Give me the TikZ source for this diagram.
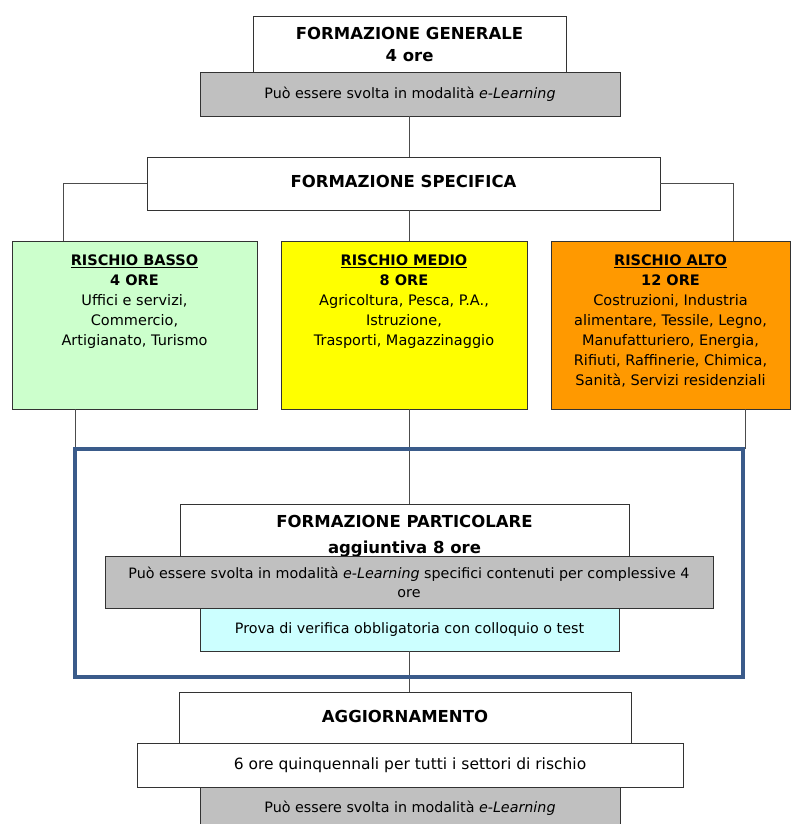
\documentclass[tikz,border=0pt]{standalone}
\usepackage{fontspec}
\setmainfont{DejaVu Sans}
\usetikzlibrary{calc}

\definecolor{grigio}{HTML}{C0C0C0}
\definecolor{verde}{HTML}{CCFFCC}
\definecolor{giallo}{HTML}{FFFF00}
\definecolor{arancio}{HTML}{FF9900}
\definecolor{azzurro}{HTML}{CCFFFF}
\definecolor{blu}{HTML}{3A5B8A}

\newcommand{\titolo}{\fontsize{16.5}{22}\selectfont\bfseries}
\newcommand{\testo}{\fontsize{14.3}{19}\selectfont}
\newcommand{\rischio}[2]{\parbox[c][160pt][t]{235pt}{\centering\fontsize{14.5}{20}\selectfont\vspace*{10pt}{\bfseries #1}\\#2}}

\begin{document}
\begin{tikzpicture}[x=1pt, y=-1pt,
    box/.style={draw=black!80, line width=0.8pt, inner sep=0pt, align=center, font=\testo},
    grigiobox/.style={box, fill=grigio},
    filo/.style={draw=black!70, line width=0.8pt},
    cornice/.style={draw=blu, line width=3.5pt}]
              \useasboundingbox (0,0) rectangle (790,824);
              \coordinate (asse) at (409,0);

              \node[box, font=\titolo, minimum width=313pt, minimum height=56pt] (gen) at (409.5,44) {FORMAZIONE GENERALE\\4 ore};
              \node[grigiobox, minimum width=420pt, minimum height=44pt] (genel) at (410,94) {Può essere svolta in modalità \textit{e-Learning}};

              \node[box, font=\titolo, minimum width=513pt, minimum height=53pt] (spec) at (403.5,183.5) {\raisebox{4pt}{FORMAZIONE SPECIFICA}};

              \node[box, fill=verde, minimum width=245pt, minimum height=168pt] (basso) at (134.5,325) {\rischio{\underline{RISCHIO BASSO}\\4 ORE}{Uffici e servizi,\\Commercio,\\Artigianato, Turismo}};
              \node[box, fill=giallo, minimum width=246pt, minimum height=168pt] (medio) at (404,325) {\rischio{\underline{RISCHIO MEDIO}\\8 ORE}{Agricoltura, Pesca, P.A.,\\Istruzione,\\Trasporti, Magazzinaggio}};
              \node[box, fill=arancio, minimum width=239pt, minimum height=168pt] (alto) at (670.5,325) {\rischio{\underline{RISCHIO ALTO}\\12 ORE}{Costruzioni, Industria\\alimentare, Tessile, Legno,\\Manufatturiero, Energia,\\Rifiuti, Raffinerie, Chimica,\\Sanità, Servizi residenziali}};

              \node[minimum width=668pt, minimum height=228pt] (riquadro) at (409,563) {};
              \node[box, font=\titolo, minimum width=449pt, minimum height=64pt] (part) at (404.5,536) {FORMAZIONE PARTICOLARE\\[4pt]aggiuntiva 8 ore};
              \node[grigiobox, minimum width=608pt, minimum height=52pt] (partel) at (409,582) {Può essere svolta in modalità \textit{e-Learning} specifici contenuti per complessive 4\\ore};
              \node[box, fill=azzurro, minimum width=419pt, minimum height=43pt] (prova) at (409.5,629.5) {Prova di verifica obbligatoria con colloquio o test};

              \node[box, font=\titolo, minimum width=452pt, minimum height=51pt] (agg) at (405,717.5) {\raisebox{3pt}{AGGIORNAMENTO}};
              \node[box, font=\fontsize{15.5}{19}\selectfont, minimum width=546pt, minimum height=44pt] (sei) at (410,765) {6 ore quinquennali per tutti i settori di rischio};
              \node[grigiobox, minimum width=420pt, minimum height=44pt] (aggel) at (410,809) {\raisebox{4pt}{Può essere svolta in modalità \textit{e-Learning}}};

              \draw[filo] (genel.south -| asse) -- (spec.north -| asse);
              \draw[filo] (spec.west) -| ([xshift=-71.5pt]basso.north);
              \draw[filo] (spec.east) -| ([xshift=62.5pt]alto.north);
              \draw[filo] (spec.south -| asse) -- (medio.north -| asse);

              \draw[filo] ([xshift=-59.5pt]basso.south) -- ([xshift=-59.5pt]basso.south |- riquadro.north);
              \draw[filo] ([xshift=74.5pt]alto.south) -- ([xshift=74.5pt]alto.south |- riquadro.north);
              \draw[filo] (medio.south -| asse) -- (part.north -| asse);
              \draw[filo] (prova.south -| asse) -- (agg.north -| asse);

              \draw[cornice] (riquadro.north west) rectangle (riquadro.south east);
            \end{tikzpicture}
\end{document}
